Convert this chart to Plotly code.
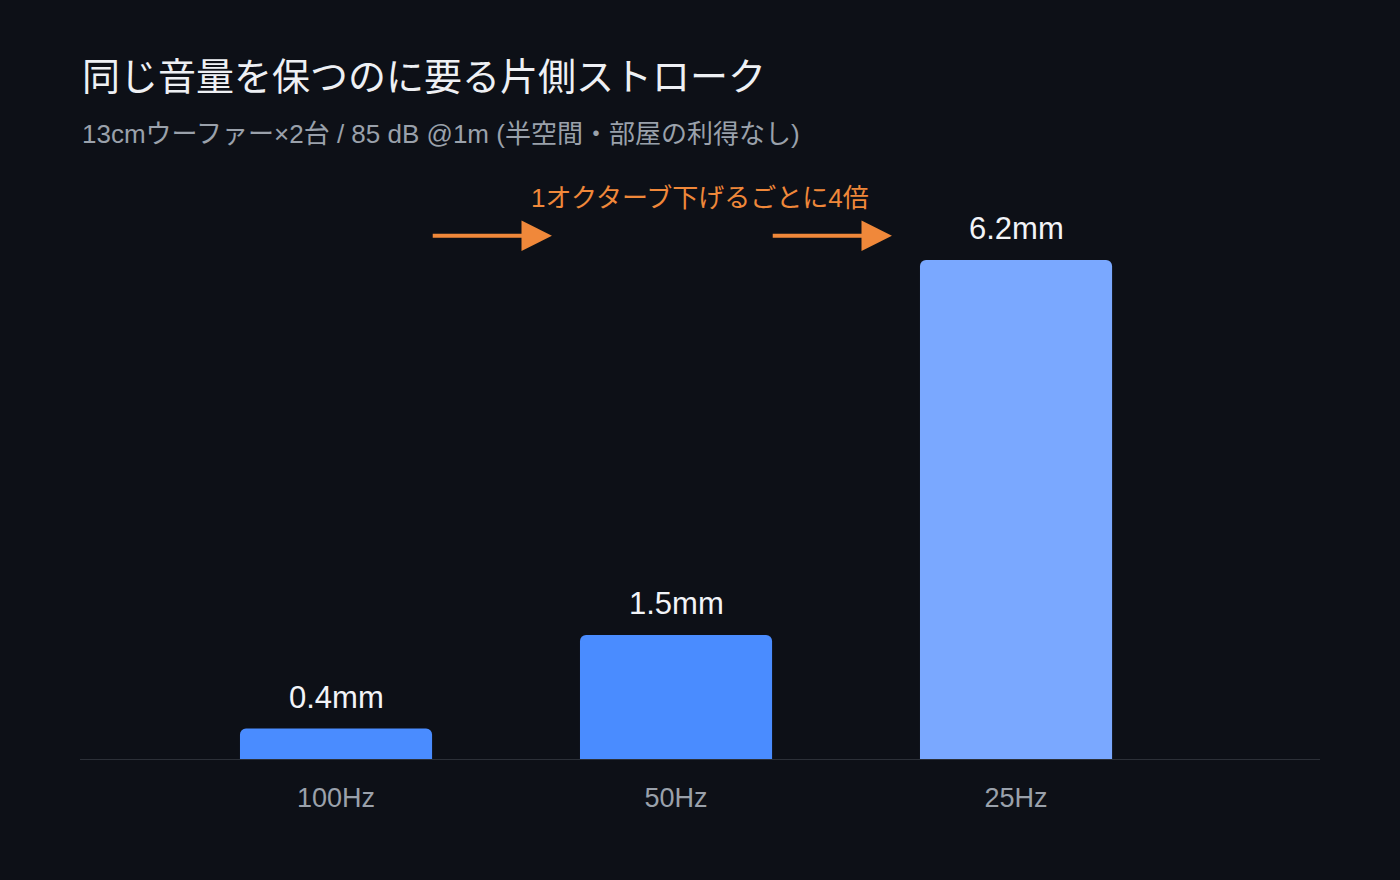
import plotly.graph_objects as go

# data
categories = ['100Hz', '50Hz', '25Hz']
stroke_mm = [0.39, 1.55, 6.2]
value_labels = ['0.4mm', '1.5mm', '6.2mm']
bar_colors = ['#4a8cff', '#4a8cff', '#7aa8ff']

title_text = '同じ音量を保つのに要る片側ストローク'
subtitle_text = '13cmウーファー×2台 / 85 dB @1m (半空間・部屋の利得なし)'
note_text = '1オクターブ下げるごとに4倍'

FONT = 'Liberation Sans, Noto Sans CJK JP, sans-serif'
BG = '#0d1017'
ORANGE = '#f0883a'
PX_PER_MM = 80.65

fig = go.Figure()

fig.add_trace(go.Bar(
    x=list(range(len(categories))), y=stroke_mm,
    marker=dict(color=bar_colors, cornerradius=6, line_width=0),
    width=0.565,
    hoverinfo='skip',
))

# baseline
fig.add_shape(type='line', xref='paper', yref='y', x0=0, x1=1, y0=0, y1=0,
              line=dict(color='#2c3038', width=2), layer='above')

# value labels above bars
for i, (v, lab) in enumerate(zip(stroke_mm, value_labels)):
    fig.add_annotation(
        x=i, y=v, xref='x', yref='y', text=lab, showarrow=False,
        yshift=31, font=dict(color='#f2f4f8', size=31, family=FONT),
    )

# octave arrows between bars
for i in range(len(categories) - 1):
    fig.add_annotation(
        x=i + 0.635, y=6.5, ax=i + 0.28, ay=6.5,
        xref='x', yref='y', axref='x', ayref='y',
        text='', showarrow=True, arrowhead=2, arrowsize=1.6,
        arrowwidth=3.8, arrowcolor=ORANGE,
    )

fig.add_annotation(
    x=1.07, y=6.97, xref='x', yref='y', text=note_text, showarrow=False,
    font=dict(color=ORANGE, size=26, family=FONT),
)

fig.add_annotation(
    x=0, y=1 + (160 - 77) / 600, xref='paper', yref='paper',
    xanchor='left', yanchor='middle', text=title_text, showarrow=False,
    font=dict(color='#eef0f4', size=38, family=FONT),
)
fig.add_annotation(
    x=0, y=1 + (160 - 134) / 600, xref='paper', yref='paper',
    xanchor='left', yanchor='middle', text=subtitle_text, showarrow=False,
    font=dict(color='#9aa1ab', size=26, family=FONT),
)

fig.update_layout(
    width=1400, height=880,
    paper_bgcolor=BG, plot_bgcolor=BG,
    margin=dict(l=80, r=80, t=160, b=120),
    showlegend=False,
    font=dict(family=FONT),
    xaxis=dict(
        range=[-0.753, 2.894], showgrid=False, zeroline=False, showline=False,
        tickmode='array', tickvals=list(range(len(categories))), ticktext=categories,
        tickfont=dict(color='#9aa1ab', size=27), ticks='', ticklen=0,
        ticklabelstandoff=19, fixedrange=True,
    ),
    yaxis=dict(
        range=[0, 600 / PX_PER_MM], showgrid=False, zeroline=False, showline=False,
        showticklabels=False, fixedrange=True,
    ),
)

fig.write_html('out.html', config={'displayModeBar': False},
               post_script="document.body.style.margin='0';document.body.style.background='#0d1017';")
